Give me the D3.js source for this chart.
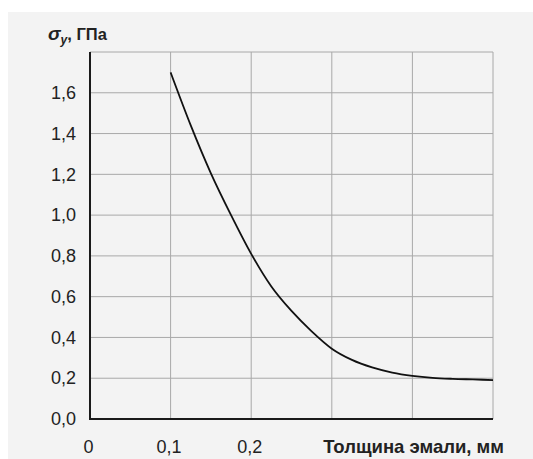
<!DOCTYPE html>
<html>
<head>
<meta charset="utf-8">
<script src="https://cdn.jsdelivr.net/npm/d3@7"></script>
<style>
  body { margin: 0; background: #ffffff; }
  svg { display: block; font-family: Arial, "Liberation Sans", sans-serif; }
</style>
</head>
<body>
<svg id="chart" width="533" height="459"></svg>
<script>
// толщина эмали, мм
var thickness = [0.1, 0.125, 0.15, 0.175, 0.2, 0.225, 0.25, 0.275, 0.3, 0.325, 0.35, 0.375, 0.4, 0.425, 0.45, 0.475, 0.5];
// напряжение sigma_y, ГПа
var stress = [1.70, 1.44, 1.205, 1.0, 0.81, 0.65, 0.53, 0.43, 0.345, 0.29, 0.253, 0.228, 0.212, 0.202, 0.197, 0.194, 0.191];

var xTicks = [0, 0.1, 0.2];
var xGrid = [0.1, 0.2, 0.3, 0.4, 0.5];
var yTicks = [0, 0.2, 0.4, 0.6, 0.8, 1.0, 1.2, 1.4, 1.6];
var yGrid = [0.2, 0.4, 0.6, 0.8, 1.0, 1.2, 1.4, 1.6, 1.8];

var svg = d3.select("#chart");

// fond "papier"
svg.append("rect")
  .attr("x", 8).attr("y", 12)
  .attr("width", 525).attr("height", 447)
  .attr("fill", "#f3f3f3");

var x = d3.scaleLinear().domain([0, 0.5]).range([90, 493]);
var y = d3.scaleLinear().domain([0, 1.8]).range([419, 52]);

var fmt = function(d){ return d3.format(".1f")(d).replace(".", ","); };

// grille
svg.append("g").selectAll("line").data(xGrid).enter().append("line")
  .attr("x1", d => x(d)).attr("x2", d => x(d))
  .attr("y1", y(0)).attr("y2", y(1.8))
  .attr("stroke", "#a8a8a8").attr("stroke-width", 1);

svg.append("g").selectAll("line").data(yGrid).enter().append("line")
  .attr("x1", x(0)).attr("x2", x(0.5))
  .attr("y1", d => y(d)).attr("y2", d => y(d))
  .attr("stroke", "#a8a8a8").attr("stroke-width", 1);

// axes (gauche et bas)
svg.append("line")
  .attr("x1", x(0)).attr("x2", x(0))
  .attr("y1", y(0)).attr("y2", y(1.8))
  .attr("stroke", "#1a1a1a").attr("stroke-width", 2);
svg.append("line")
  .attr("x1", x(0) - 1).attr("x2", x(0.5))
  .attr("y1", y(0)).attr("y2", y(0))
  .attr("stroke", "#1a1a1a").attr("stroke-width", 2);

// labels y
var yAxis = d3.axisLeft(y).tickValues(yTicks).tickFormat(fmt).tickSize(0).tickPadding(14);
var gy = svg.append("g").attr("transform", `translate(${x(0)},0)`).call(yAxis);
gy.select(".domain").remove();
gy.selectAll("text").attr("font-size", 18).attr("fill", "#222").attr("font-family", "Arial, Liberation Sans, sans-serif");

// labels x
var xAxis = d3.axisBottom(x).tickValues(xTicks).tickFormat(d => d === 0 ? "0" : fmt(d)).tickSize(0).tickPadding(21);
var gx = svg.append("g").attr("transform", `translate(-2,${y(0)})`).call(xAxis);
gx.select(".domain").remove();
gx.selectAll("text").attr("font-size", 18).attr("fill", "#222").attr("font-family", "Arial, Liberation Sans, sans-serif");

// titre axe x
svg.append("text")
  .attr("x", 504).attr("y", 453)
  .attr("text-anchor", "end")
  .attr("font-size", 18.5).attr("font-weight", "bold").attr("fill", "#222")
  .text("Толщина эмали, мм");

// titre axe y
var t = svg.append("text").attr("x", 48).attr("y", 40)
  .attr("font-size", 16.5).attr("font-weight", "bold").attr("fill", "#222");
t.append("tspan").attr("font-style", "italic").attr("font-size", 19).text("σ");
t.append("tspan").attr("font-style", "italic").attr("font-size", 12).attr("dy", 4).text("y");
t.append("tspan").attr("dy", -4).text(", ГПа");

// courbe
var line = d3.line()
  .x((d, i) => x(thickness[i]))
  .y(d => y(d))
  .curve(d3.curveMonotoneX);

svg.append("path")
  .datum(stress)
  .attr("d", line)
  .attr("fill", "none")
  .attr("stroke", "#111")
  .attr("stroke-width", 1.8);
</script>
</body>
</html>
